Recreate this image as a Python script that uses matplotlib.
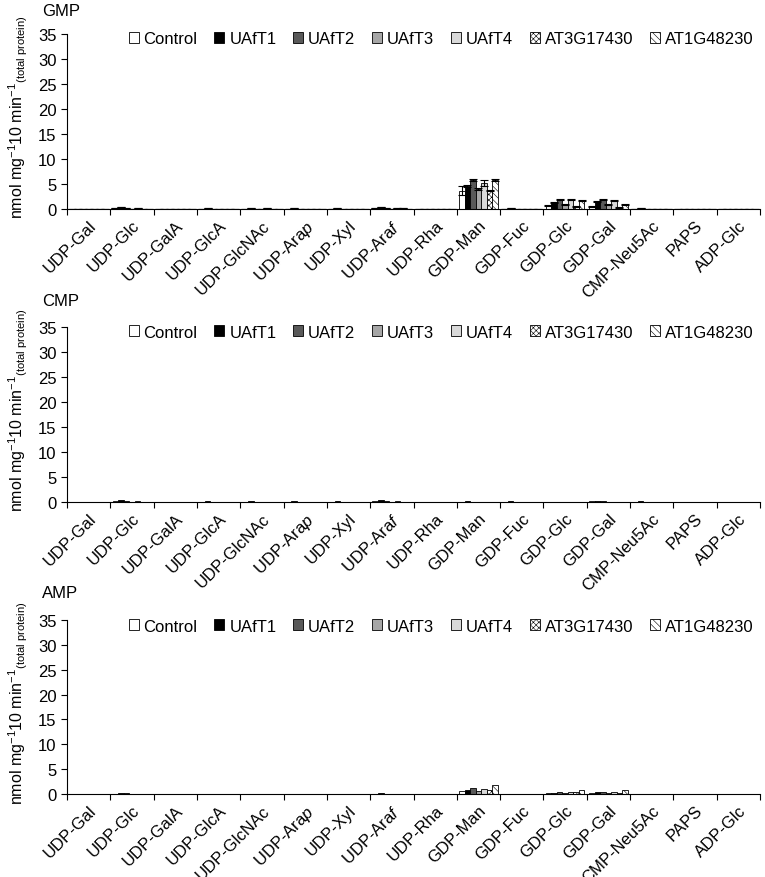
import numpy as np
import matplotlib
matplotlib.use("Agg")
import matplotlib.pyplot as plt

plt.rcParams['font.family'] = ['Liberation Sans', 'DejaVu Sans']
plt.rcParams['mathtext.fontset'] = 'custom'
plt.rcParams['mathtext.rm'] = 'Liberation Sans'
plt.rcParams['mathtext.it'] = 'Liberation Sans:italic'
plt.rcParams['hatch.linewidth'] = 0.4

categories = ['UDP-Gal', 'UDP-Glc', 'UDP-GalA', 'UDP-GlcA', 'UDP-GlcNAc',
              'UDP-Ara$\\it{p}$', 'UDP-Xyl', 'UDP-Ara$\\it{f}$', 'UDP-Rha',
              'GDP-Man', 'GDP-Fuc', 'GDP-Glc', 'GDP-Gal', 'CMP-Neu5Ac',
              'PAPS', 'ADP-Glc']
series = ['Control', 'UAfT1', 'UAfT2', 'UAfT3', 'UAfT4', 'AT3G17430', 'AT1G48230']

# rows follow `series`, columns follow `categories`
gmp_values = [
    [0.1, 0.2, 0.1, 0.1, 0.1, 0.1, 0.1, 0.3, 0.1, 3.7, 0.1, 0.8, 0.5, 0.1, 0.1, 0.1],
    [0.1, 0.4, 0.1, 0.2, 0.2, 0.2, 0.2, 0.4, 0.1, 4.6, 0.2, 1.4, 1.6, 0.2, 0.1, 0.1],
    [0.1, 0.2, 0.1, 0.1, 0.1, 0.1, 0.1, 0.3, 0.1, 5.8, 0.1, 1.9, 1.9, 0.1, 0.1, 0.1],
    [0.1, 0.1, 0.1, 0.1, 0.1, 0.1, 0.1, 0.1, 0.1, 4.0, 0.1, 0.9, 0.9, 0.1, 0.1, 0.1],
    [0.1, 0.2, 0.1, 0.1, 0.2, 0.1, 0.1, 0.2, 0.1, 5.2, 0.1, 1.9, 1.7, 0.1, 0.1, 0.1],
    [0.1, 0.1, 0.1, 0.1, 0.1, 0.1, 0.1, 0.2, 0.1, 3.8, 0.1, 0.5, 0.4, 0.1, 0.1, 0.1],
    [0.1, 0.1, 0.1, 0.1, 0.1, 0.1, 0.1, 0.1, 0.1, 5.8, 0.1, 1.7, 1.0, 0.1, 0.1, 0.1],
]
gmp_errors = [
    [0, 0, 0, 0, 0, 0, 0, 0, 0, 0.9, 0, 0.1, 0.1, 0, 0, 0],
    [0, 0, 0, 0, 0, 0, 0, 0, 0, 0.2, 0, 0.1, 0.1, 0, 0, 0],
    [0, 0, 0, 0, 0, 0, 0, 0, 0, 0.2, 0, 0.1, 0.1, 0, 0, 0],
    [0, 0, 0, 0, 0, 0, 0, 0, 0, 0.2, 0, 0.1, 0.1, 0, 0, 0],
    [0, 0, 0, 0, 0, 0, 0, 0, 0, 0.6, 0, 0.1, 0.1, 0, 0, 0],
    [0, 0, 0, 0, 0, 0, 0, 0, 0, 0.1, 0, 0.1, 0.1, 0, 0, 0],
    [0, 0, 0, 0, 0, 0, 0, 0, 0, 0.2, 0, 0.1, 0.1, 0, 0, 0],
]
cmp_values = [
    [0.1, 0.2, 0.1, 0.1, 0.1, 0.1, 0.1, 0.2, 0.1, 0.1, 0.1, 0.1, 0.2, 0.1, 0.1, 0.1],
    [0.1, 0.4, 0.1, 0.2, 0.2, 0.2, 0.2, 0.4, 0.1, 0.2, 0.2, 0.1, 0.3, 0.2, 0.1, 0.1],
    [0.1, 0.2, 0.1, 0.1, 0.1, 0.1, 0.1, 0.2, 0.1, 0.1, 0.1, 0.1, 0.2, 0.1, 0.1, 0.1],
    [0.1, 0.1, 0.1, 0.1, 0.1, 0.1, 0.1, 0.1, 0.1, 0.1, 0.1, 0.1, 0.1, 0.1, 0.1, 0.1],
    [0.1, 0.2, 0.1, 0.1, 0.1, 0.1, 0.1, 0.2, 0.1, 0.1, 0.1, 0.1, 0.1, 0.1, 0.1, 0.1],
    [0.1, 0.1, 0.1, 0.1, 0.1, 0.1, 0.1, 0.1, 0.1, 0.1, 0.1, 0.1, 0.1, 0.1, 0.1, 0.1],
    [0.1, 0.1, 0.1, 0.1, 0.1, 0.1, 0.1, 0.1, 0.1, 0.1, 0.1, 0.1, 0.1, 0.1, 0.1, 0.1],
]
amp_values = [
    [0.1, 0.1, 0.1, 0.1, 0.1, 0.1, 0.1, 0.1, 0.1, 0.67, 0.1, 0.27, 0.27, 0.1, 0.1, 0.1],
    [0.1, 0.3, 0.1, 0.1, 0.1, 0.1, 0.1, 0.2, 0.1, 0.8, 0.1, 0.2, 0.33, 0.1, 0.1, 0.1],
    [0.1, 0.2, 0.1, 0.1, 0.1, 0.1, 0.1, 0.1, 0.1, 1.3, 0.1, 0.5, 0.4, 0.1, 0.1, 0.1],
    [0.1, 0.1, 0.1, 0.1, 0.1, 0.1, 0.1, 0.1, 0.1, 0.67, 0.1, 0.27, 0.27, 0.1, 0.1, 0.1],
    [0.1, 0.1, 0.1, 0.1, 0.1, 0.1, 0.1, 0.1, 0.1, 1.1, 0.1, 0.5, 0.47, 0.1, 0.1, 0.1],
    [0.1, 0.1, 0.1, 0.1, 0.1, 0.1, 0.1, 0.1, 0.1, 0.8, 0.1, 0.4, 0.27, 0.1, 0.1, 0.1],
    [0.1, 0.1, 0.1, 0.1, 0.1, 0.1, 0.1, 0.1, 0.1, 1.9, 0.1, 0.8, 0.8, 0.1, 0.1, 0.1],
]
panel_titles = ['GMP', 'CMP', 'AMP']

colors = ['white', 'black', '#595959', '#a6a6a6', '#d9d9d9', 'white', 'white']
hatches = [None, None, None, None, None, 'xxxxxx', '\\\\\\\\\\']

fig = plt.figure(figsize=(7.65, 8.78), dpi=100)
W, H = 765.0, 878.0
# (pixel y of 0 line, pixel y of 35 line, title y, legend y)
layout = [(210, 35, 11, 40), (503, 328, 301, 333), (795, 621, 593, 627)]

x = np.arange(len(categories))
w = 0.128
ylab = 'nmol mg$^{-1}$10 min$^{-1}$$_{\\mathrm{(total\\ protein)}}$'

for p, (vals, title) in enumerate(zip([gmp_values, cmp_values, amp_values], panel_titles)):
    y0, y35, ty, ly = layout[p]
    ax = fig.add_axes([67 / W, 1 - y0 / H, 693 / W, (y0 - y35) / H])
    for j, name in enumerate(series):
        err = gmp_errors[j] if p == 0 else None
        ax.bar(x + (j - 3) * w, vals[j], w, color=colors[j], edgecolor='black',
               linewidth=0.6, hatch=hatches[j], label=name, zorder=2,
               yerr=err, error_kw=dict(elinewidth=0.8, capsize=3, capthick=0.8,
                                       ecolor='black'))
    ax.set_xlim(-0.5, len(categories) - 0.5)
    ax.set_ylim(0, 35)
    ax.set_yticks(np.arange(0, 36, 5))
    ax.set_xticks(x)
    ax.set_xticklabels(categories, rotation=45, ha='right', rotation_mode='anchor',
                       fontsize=12)
    ax.tick_params(axis='x', which='major', length=0, pad=6)
    ax.set_xticks(np.arange(-0.5, len(categories), 1), minor=True)
    ax.tick_params(axis='x', which='minor', length=4, width=0.8, direction='out')
    ax.tick_params(axis='y', labelsize=12, length=4, width=0.8, direction='out')
    for s in ['top', 'right']:
        ax.spines[s].set_visible(False)
    for s in ['left', 'bottom']:
        ax.spines[s].set_linewidth(0.8)
    ax.set_ylabel(ylab, fontsize=11.5)
    ax.yaxis.set_label_coords(-0.054, 0.53)
    fig.text(42 / W, 1 - ty / H, title, fontsize=12, va='center', ha='left')
    ax.legend(ncol=7, frameon=False, fontsize=12, handlelength=0.6, handleheight=0.6,
              handletextpad=0.3, columnspacing=1.0, loc='center right',
              bbox_to_anchor=(1.0, 1 - (ly - y35) / (y0 - y35)),
              borderaxespad=0)

fig.savefig('out.png', dpi=100)
